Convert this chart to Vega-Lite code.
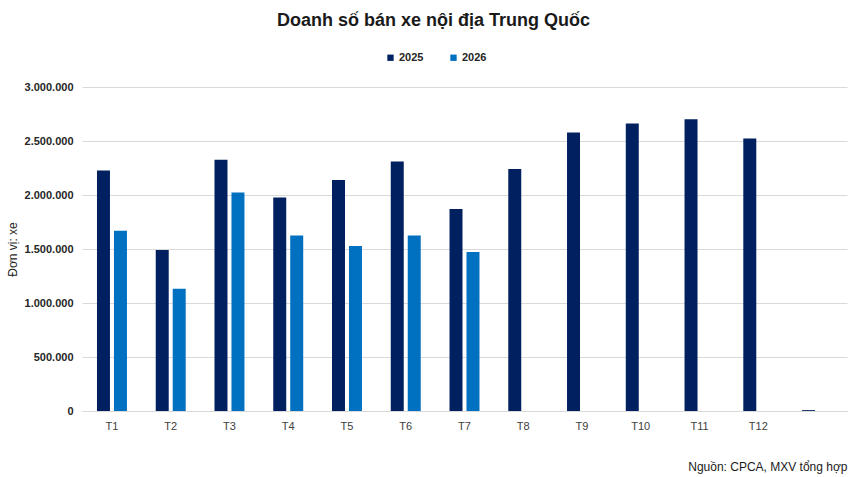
{
  "$schema": "https://vega.github.io/schema/vega-lite/v6.json",
  "description": "Doanh số bán xe nội địa Trung Quốc theo tháng, 2025 và 2026.",
  "autosize": {"type": "none"},
  "width": 765,
  "height": 324,
  "padding": {"left": 82, "top": 87, "right": 3, "bottom": 66},
  "title": {
    "text": "Doanh số bán xe nội địa Trung Quốc",
    "font": "Liberation Sans, Arial",
    "fontSize": 18,
    "fontWeight": "bold",
    "color": "#1a1a1a",
    "anchor": "middle",
    "frame": "group",
    "dx": -31,
    "offset": 22
  },
  "data": {
    "values": [
      {"thang": "T1", "nam": "2025", "xe": 2228000},
      {"thang": "T1", "nam": "2026", "xe": 1669000},
      {"thang": "T2", "nam": "2025", "xe": 1491000},
      {"thang": "T2", "nam": "2026", "xe": 1132000},
      {"thang": "T3", "nam": "2025", "xe": 2327000},
      {"thang": "T3", "nam": "2026", "xe": 2024000},
      {"thang": "T4", "nam": "2025", "xe": 1978000},
      {"thang": "T4", "nam": "2026", "xe": 1626000},
      {"thang": "T5", "nam": "2025", "xe": 2139000},
      {"thang": "T5", "nam": "2026", "xe": 1528000},
      {"thang": "T6", "nam": "2025", "xe": 2311000},
      {"thang": "T6", "nam": "2026", "xe": 1626000},
      {"thang": "T7", "nam": "2025", "xe": 1870000},
      {"thang": "T7", "nam": "2026", "xe": 1472000},
      {"thang": "T8", "nam": "2025", "xe": 2240000},
      {"thang": "T9", "nam": "2025", "xe": 2578000},
      {"thang": "T10", "nam": "2025", "xe": 2661000},
      {"thang": "T11", "nam": "2025", "xe": 2701000},
      {"thang": "T12", "nam": "2025", "xe": 2522000},
      {"thang": " ", "nam": "2025", "xe": 8000}
    ]
  },
  "mark": "bar",
  "encoding": {
    "x": {
      "field": "thang",
      "type": "nominal",
      "sort": ["T1", "T2", "T3", "T4", "T5", "T6", "T7", "T8", "T9", "T10", "T11", "T12", " "],
      "scale": {"paddingInner": 0.49, "paddingOuter": 0.255},
      "axis": {
        "title": "Nguồn: CPCA, MXV tổng hợp",
        "titleAnchor": "end",
        "titleAlign": "right",
        "titleFontWeight": "normal",
        "titleFontSize": 12,
        "titleColor": "#1a1a1a",
        "titlePadding": 30,
        "labelAngle": 0,
        "labelFontSize": 11,
        "labelColor": "#404040",
        "labelPadding": 9,
        "ticks": false,
        "domainColor": "#d9d9d9"
      }
    },
    "xOffset": {
      "field": "nam",
      "type": "nominal",
      "scale": {"paddingInner": 0.235, "paddingOuter": 0}
    },
    "y": {
      "field": "xe",
      "type": "quantitative",
      "scale": {"domain": [0, 3000000], "nice": false},
      "axis": {
        "title": "Đơn vị:  xe",
        "titleFontWeight": "normal",
        "titleFontSize": 12,
        "titleColor": "#262626",
        "titlePadding": 5,
        "values": [0, 500000, 1000000, 1500000, 2000000, 2500000, 3000000],
        "format": ",d",
        "labelFontSize": 11,
        "labelFontWeight": "bold",
        "labelColor": "#262626",
        "labelPadding": 9,
        "ticks": false,
        "domain": false,
        "gridColor": "#d9d9d9"
      }
    },
    "color": {
      "field": "nam",
      "type": "nominal",
      "scale": {"domain": ["2025", "2026"], "range": ["#002060", "#0070c0"]},
      "legend": {
        "title": null,
        "orient": "none",
        "direction": "horizontal",
        "legendX": 303,
        "legendY": -35,
        "symbolType": "square",
        "symbolSize": 40,
        "symbolStrokeWidth": 0,
        "labelFontSize": 11,
        "labelFontWeight": "bold",
        "labelColor": "#262626",
        "labelOffset": 3,
        "columnPadding": 24
      }
    }
  },
  "config": {
    "font": "Liberation Sans, Arial",
    "view": {"stroke": null},
    "locale": {
      "number": {"decimal": ",", "thousands": ".", "grouping": [3], "currency": ["", " ₫"]}
    }
  }
}
